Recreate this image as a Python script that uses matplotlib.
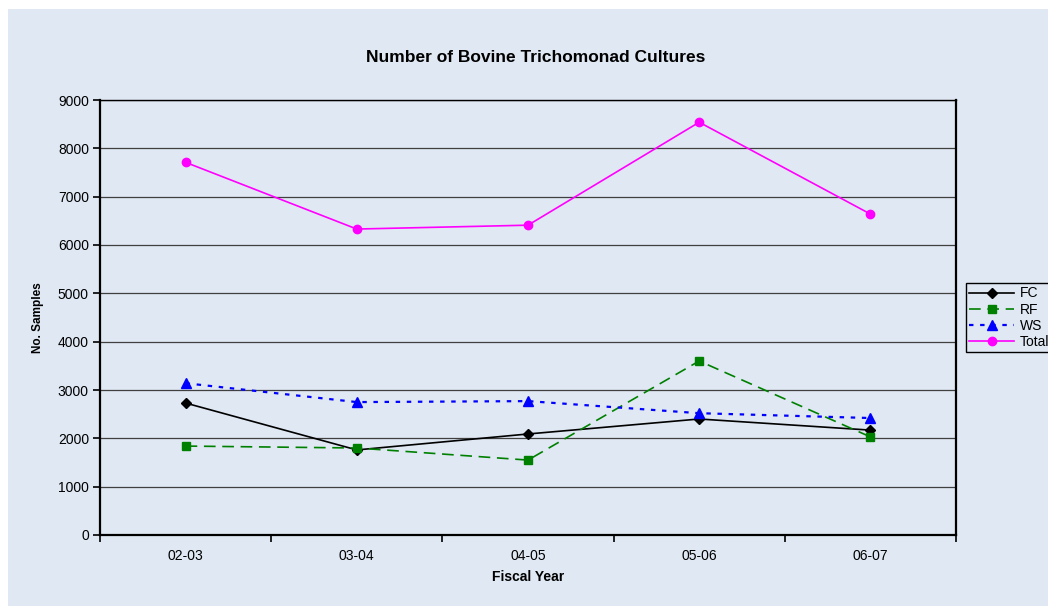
import matplotlib.pyplot as plt
from matplotlib.patches import Rectangle

plt.rcParams['font.family'] = ['Liberation Sans', 'DejaVu Sans']

# ---------- data ----------
years = ['02-03', '03-04', '04-05', '05-06', '06-07']
fc = [2730, 1760, 2090, 2400, 2170]
rf = [1840, 1800, 1550, 3600, 2030]
ws = [3140, 2750, 2770, 2520, 2420]
total = [7710, 6330, 6410, 8540, 6640]

bg = '#dfe8f3'

fig = plt.figure(figsize=(10.48, 6.06), dpi=100)
fig.patch.set_facecolor('white')
# light blue chart panel
fig.patches.append(Rectangle((8 / 1048, 0), 1, 1 - 9 / 606,
                             transform=fig.transFigure, facecolor=bg,
                             edgecolor='none', zorder=-10))

ax = fig.add_axes([100 / 1048, 1 - 535 / 606, 856 / 1048, 435 / 606])
ax.set_facecolor(bg)

x = list(range(len(years)))
ax.plot(x, fc, color='black', lw=1.2, marker='D', ms=5, label='FC')
ax.plot(x, rf, color='#008000', lw=1.2, ls=(0, (7, 4)), marker='s', ms=6, label='RF')
ax.plot(x, ws, color='#0000ff', lw=1.6, ls=(0, (2, 3)), marker='^', ms=7, label='WS')
ax.plot(x, total, color='#ff00ff', lw=1.2, marker='o', ms=6, label='Total')

ax.set_xlim(-0.5, len(years) - 0.5)
ax.set_ylim(0, 9000)
ax.set_yticks(range(0, 9001, 1000))
ax.yaxis.grid(True, color='#404040', lw=0.9)
ax.set_axisbelow(True)

ax.set_xticks(x)
ax.set_xticklabels(years)
ax.set_xticks([i - 0.5 for i in range(len(years) + 1)], minor=True)
ax.tick_params(axis='x', which='major', length=0, pad=10, labelsize=10)
ax.tick_params(axis='x', which='minor', length=5, width=1.2, direction='out')
ax.tick_params(axis='y', length=5, width=1.2, direction='out', labelsize=10, pad=3)

for side in ['left', 'bottom', 'right']:
    ax.spines[side].set_linewidth(1.6)
ax.spines['top'].set_linewidth(1.0)

ax.set_xlabel('Fiscal Year', fontsize=10, fontweight='bold', labelpad=5)
ax.set_ylabel('No. Samples', fontsize=8.5, fontweight='bold', labelpad=10)
fig.text(536 / 1048, 1 - 57 / 606, 'Number of Bovine Trichomonad Cultures',
         ha='center', va='center', fontsize=12.5, fontweight='bold')

leg = fig.legend(loc='upper left', bbox_to_anchor=(966 / 1048, 1 - 283 / 606),
                 fontsize=10, frameon=True, fancybox=False, edgecolor='black',
                 facecolor=bg, framealpha=1, borderpad=0.25, labelspacing=0.15,
                 handlelength=3.2, handletextpad=0.4, borderaxespad=0)
leg.get_frame().set_linewidth(1.0)

fig.savefig('out.png', dpi=100, facecolor=fig.get_facecolor())
